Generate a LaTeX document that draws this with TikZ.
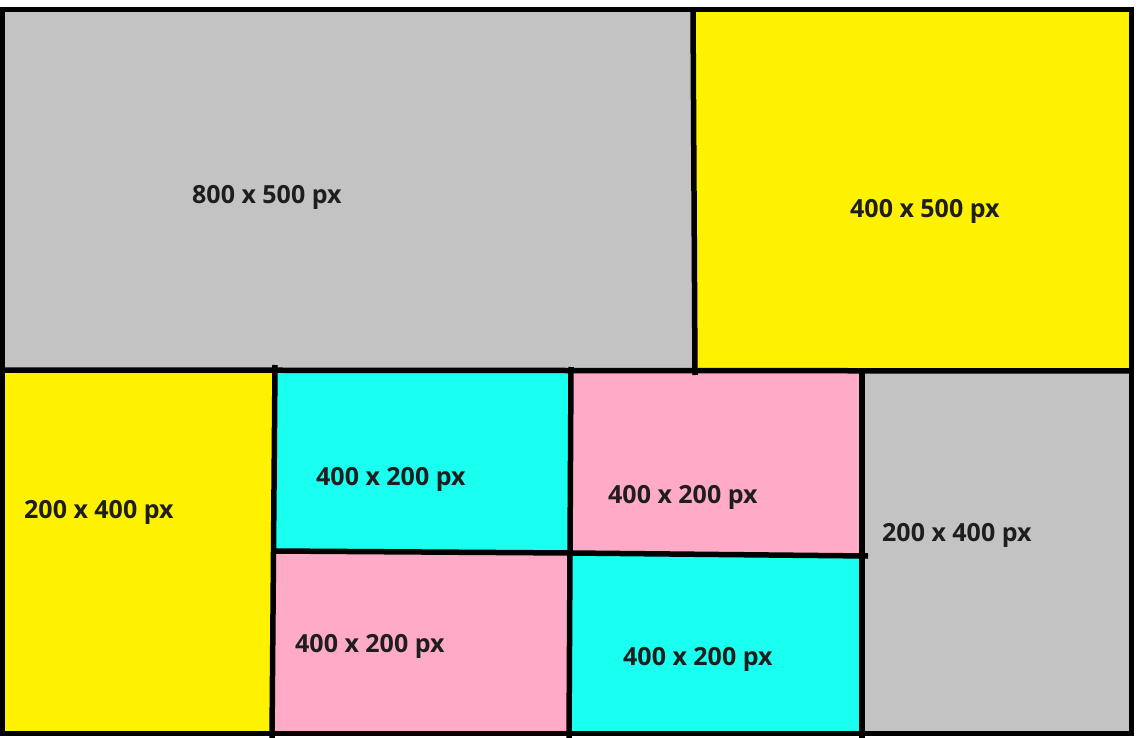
\documentclass[tikz,border=0pt]{standalone}
\usepackage{fontspec}
\setmainfont{Open Sans}
\definecolor{cgray}{HTML}{C3C3C3}
\definecolor{cyellow}{HTML}{FFF200}
\definecolor{ccyan}{HTML}{19FFF0}
\definecolor{cpink}{HTML}{FFABC8}
\definecolor{ctext}{HTML}{1E1E1E}
\tikzset{
  lbl/.style={anchor=base west, inner sep=0pt, text=ctext, font=\fontsize{25}{29}\selectfont\bfseries},
  wall/.style={line width=5.5pt, black}
}
\begin{document}
\begin{tikzpicture}[x=1pt,y=-1pt]
\useasboundingbox (0,0) rectangle (1146,738);
% fills
\fill[cgray] (2,9.5) rectangle (694,370);
\fill[cyellow] (694,9.5) rectangle (1131.5,370);
\fill[cyellow] (2,370) rectangle (274,733.5);
\fill[ccyan] (274,370) rectangle (570,553);
\fill[cpink] (570,370) rectangle (862,555);
\fill[cpink] (274,553) rectangle (570,733.5);
\fill[ccyan] (570,554) rectangle (862,733.5);
\fill[cgray] (862,370) rectangle (1131.5,733.5);
% walls
\draw[wall] (2,9.5) rectangle (1131.5,733.5);
\draw[wall] (693,9.5) -- (695,375);
\draw[wall] (2,370) -- (1131.5,371);
\draw[wall] (275,365) -- (272,738);
\draw[wall] (571,367) -- (569,738);
\draw[wall] (862,370) -- (862,738);
\draw[wall] (273,551) -- (571,553) -- (868,556);
% labels
\node[lbl] (a) at (192,204) {800 x 500 px};
\node[lbl] (b) at (850,218) {400 x 500 px};
\node[lbl] (c) at (24,518) {200 x 400 px};
\node[lbl] (d) at (316,485) {400 x 200 px};
\node[lbl] (e) at (608,503) {400 x 200 px};
\node[lbl] (f) at (882,541) {200 x 400 px};
\node[lbl] (g) at (295,652) {400 x 200 px};
\node[lbl] (h) at (623,665) {400 x 200 px};
\end{tikzpicture}
\end{document}
